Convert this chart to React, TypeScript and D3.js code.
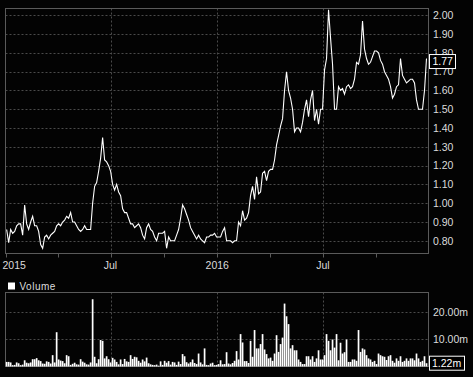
import React from "react";
import * as d3 from "d3";

// ---- data (sampled every ~3.45 days from early Jan 2015 to end Dec 2016) ----
const sampleStart = "2015-01-03";
const sampleStepDays = 3.446;

const prices: number[] = [
  0.86, 0.79, 0.86, 0.84, 0.85, 0.88, 0.89, 0.89, 0.83, 0.99,
  0.89, 0.86, 0.9, 0.93, 0.88, 0.88, 0.85, 0.78, 0.76, 0.82,
  0.83, 0.81, 0.83, 0.84, 0.85, 0.88, 0.89, 0.88, 0.9, 0.91,
  0.93, 0.92, 0.95, 0.9, 0.9, 0.88, 0.86, 0.85, 0.86, 0.88,
  0.86, 0.86, 0.86, 1.0, 1.09, 1.11, 1.17, 1.24, 1.35, 1.23,
  1.22, 1.2, 1.17, 1.1, 1.07, 1.1, 1.06, 1.04, 0.97, 0.95,
  0.95, 0.92, 0.89, 0.89, 0.87, 0.88, 0.89, 0.87, 0.83, 0.81,
  0.87, 0.89, 0.86, 0.85, 0.82, 0.8, 0.84, 0.84, 0.84, 0.85,
  0.76, 0.82, 0.8, 0.8, 0.8, 0.83, 0.86, 0.92, 0.99, 0.97,
  0.94, 0.91, 0.87, 0.85, 0.83, 0.81, 0.83, 0.81, 0.8, 0.79,
  0.82, 0.82, 0.83, 0.83, 0.84, 0.82, 0.82, 0.82, 0.85, 0.87,
  0.8, 0.8, 0.8, 0.79, 0.8, 0.8, 0.9, 0.88, 0.96, 0.91,
  0.92, 0.95, 1.04, 1.09, 1.02, 1.14, 1.05, 1.06, 1.16, 1.17,
  1.12, 1.17, 1.18, 1.18, 1.23, 1.31, 1.36, 1.41, 1.45, 1.6,
  1.7, 1.6, 1.56, 1.5, 1.38, 1.4, 1.4, 1.38, 1.43, 1.5,
  1.55, 1.46, 1.55, 1.6, 1.44, 1.5, 1.42, 1.5, 1.5, 1.71,
  1.77, 2.03, 1.88, 1.74, 1.5, 1.5, 1.62, 1.6, 1.61, 1.58,
  1.62, 1.63, 1.61, 1.62, 1.66, 1.75, 1.74, 1.79, 1.97, 1.82,
  1.77, 1.74, 1.75, 1.78, 1.81, 1.81, 1.8, 1.76, 1.74, 1.7,
  1.68, 1.66, 1.62, 1.56, 1.58, 1.62, 1.63, 1.77, 1.68, 1.66,
  1.64, 1.65, 1.66, 1.66, 1.64, 1.55, 1.5, 1.5, 1.5, 1.6,
  1.77,
];

// volume in millions
const volumes: number[] = [
  1.7, 1.7, 1.5, 0.5, 0.6, 1.5, 1.2, 0.5, 0.7, 2.3,
  1.4, 1.2, 1.5, 2.7, 2.7, 3.1, 2.3, 2.0, 1.1, 1.0,
  1.9, 1.7, 1.1, 4.2, 1.5, 12.7, 2.6, 2.2, 2.0, 1.2,
  4.2, 3.8, 0.6, 1.0, 1.4, 0.8, 0.7, 2.7, 1.8, 1.4,
  0.8, 0.7, 1.5, 24.9, 3.6, 1.2, 2.7, 9.8, 9.5, 3.0,
  3.8, 2.7, 1.5, 3.2, 2.6, 1.7, 0.8, 2.6, 0.9, 2.8,
  1.9, 1.7, 4.2, 2.8, 3.6, 3.4, 2.1, 1.4, 2.6, 1.9,
  3.3, 1.2, 0.8, 0.6, 0.5, 0.7, 0.3, 1.9, 0.6, 2.1,
  1.4, 2.0, 0.7, 1.7, 1.5, 0.6, 1.8, 0.9, 4.6, 3.8,
  1.6, 1.1, 1.6, 2.6, 1.3, 0.9, 4.8, 1.5, 0.8, 6.7,
  0.6, 0.5, 1.1, 1.4, 0.5, 0.6, 0.9, 2.3, 0.8, 0.9,
  5.3, 1.1, 0.8, 1.3, 2.1, 5.7, 2.6, 12.0, 8.9, 2.0,
  2.0, 1.3, 9.5, 3.6, 13.5, 6.7, 6.7, 8.3, 12.0, 6.3,
  4.6, 3.0, 3.3, 2.1, 4.8, 11.6, 5.4, 8.3, 10.7, 23.3,
  18.6, 15.7, 6.7, 7.9, 6.0, 6.0, 2.6, 1.7, 0.9, 0.9,
  3.8, 3.8, 2.6, 3.8, 1.7, 3.0, 6.0, 2.6, 2.6, 4.2,
  12.0, 9.5, 6.0, 10.0, 7.0, 12.0, 2.3, 8.8, 4.8, 5.3,
  10.0, 1.7, 1.7, 2.6, 2.6, 2.1, 13.5, 5.4, 6.7, 6.3,
  4.2, 3.0, 2.6, 1.7, 2.1, 0.9, 4.8, 4.2, 3.8, 3.6,
  2.4, 3.8, 4.2, 2.1, 1.4, 3.0, 2.1, 3.8, 1.7, 2.1,
  3.0, 2.1, 3.0, 3.0, 2.3, 4.8, 3.0, 1.7, 2.1, 3.8,
  1.22,
];

const priceTicks = [0.8, 0.9, 1.0, 1.1, 1.2, 1.3, 1.4, 1.5, 1.6, 1.7, 1.8, 1.9, 2.0];
const volumeTicks = [10, 20];
const xLabelDates = ["2015-01-01", "2015-07-01", "2016-01-01", "2016-07-01"];
const xLabels = ["2015", "Jul", "2016", "Jul"];
const xTickDates = [
  "2015-01-01", "2015-04-01", "2015-07-01", "2015-10-01",
  "2016-01-01", "2016-04-01", "2016-07-01", "2016-10-01",
];
const xGridDates = ["2015-07-01", "2016-01-01", "2016-07-01"];
const xDomain = ["2015-01-01", "2017-01-01"];
const volumeLabel = "Volume";

// ---- layout ----
const W = 473;
const H = 377;
const L = 5.5;
const R = 428.5;
const PT = 8.5;
const PB = 253.5;
const VT = 292.5;
const VB = 366.5;
const FONT = "'Liberation Sans', Arial, Helvetica, sans-serif";
const TXT = "#dcdcdc";
const GRID = "#4a4a4a";
const FRAME = "#5a5a5a";

const parse = (s: string) => new Date(s + "T00:00:00");
const startT = parse(sampleStart).getTime();
const dateAt = (i: number) => new Date(startT + i * sampleStepDays * 86400000);

export default function App() {
  const x = d3.scaleTime().domain(xDomain.map(parse)).range([L, 429.6]);
  const y = d3.scaleLinear().domain([0.735, 2.039]).range([253, 8]);
  const yv = d3.scaleLinear().domain([0, 27.4]).range([366.5, 292.5]);

  const priceData = prices.map((p, i) => ({ d: dateAt(i), p }));
  const volData = volumes.map((v, i) => ({ d: dateAt(i), v }));

  const line = d3
    .line<{ d: Date; p: number }>()
    .x((a) => x(a.d))
    .y((a) => y(a.p));

  const lastP = prices[prices.length - 1];
  const lastV = volumes[volumes.length - 1];
  const pBoxC = y(lastP) + 3;
  const vBoxC = yv(lastV);

  return (
    <div style={{ position: "fixed", left: 0, top: 0, width: W, height: H, background: "#000" }}>
      <svg width={W} height={H} style={{ display: "block" }} fontFamily={FONT}>
        <rect x={0} y={0} width={W} height={H} fill="#030303" />

        {/* price panel grid */}
        {priceTicks.map((t) => (
          <line key={"hg" + t} x1={L} x2={R} y1={Math.round(y(t)) + 0.5} y2={Math.round(y(t)) + 0.5}
            stroke={GRID} strokeDasharray="2,2" />
        ))}
        {xGridDates.map((s) => {
          const xx = Math.round(x(parse(s))) + 0.5;
          return (
            <g key={"vg" + s}>
              <line x1={xx} x2={xx} y1={PT} y2={PB} stroke={GRID} strokeDasharray="2,2" />
              <line x1={xx} x2={xx} y1={VT} y2={VB} stroke={GRID} strokeDasharray="2,2" />
            </g>
          );
        })}
        {volumeTicks.map((t) => (
          <line key={"vhg" + t} x1={L} x2={R} y1={Math.round(yv(t)) + 0.5} y2={Math.round(yv(t)) + 0.5}
            stroke={GRID} strokeDasharray="2,2" />
        ))}

        {/* frames */}
        <rect x={L} y={PT} width={R - L} height={PB - PT} fill="none" stroke={FRAME} />
        <rect x={L} y={VT} width={R - L} height={VB - VT} fill="none" stroke={FRAME} />

        {/* x ticks */}
        {xTickDates.map((s) => {
          const xx = Math.round(x(parse(s))) + 0.5;
          return <line key={"xt" + s} x1={xx} x2={xx} y1={PB} y2={PB + 4} stroke={FRAME} />;
        })}
        {xLabels.map((lab, i) => {
          const xx = x(parse(xLabelDates[i]));
          return (
            <text key={"xl" + i} x={i === 0 ? 2.5 : xx} y={268.5} fontSize={10.5} fill={TXT}
              textAnchor={i === 0 ? "start" : "middle"}>
              {lab}
            </text>
          );
        })}

        {/* price line */}
        <path d={line(priceData) || ""} fill="none" stroke="#ffffff" strokeWidth={1.1} strokeLinejoin="miter" />

        {/* price axis labels */}
        {priceTicks.map((t) => (
          <text key={"pl" + t} x={433} y={y(t) + 3.8} fontSize={10.5} fill={TXT}>
            {t.toFixed(2)}
          </text>
        ))}
        <rect x={429.5} y={pBoxC - 7} width={26} height={14} fill="#000" stroke="#ffffff" />
        <text x={432.5} y={pBoxC + 3.8} fontSize={10.5} fill="#fff">{lastP.toFixed(2)}</text>

        {/* volume bars */}
        {volData.map((a, i) => (
          <rect key={"vb" + i} x={x(a.d) - 0.85} y={yv(a.v)} width={1.7} height={yv(0) - yv(a.v)} fill="#ffffff" />
        ))}

        {/* volume axis labels */}
        {volumeTicks.map((t) => (
          <text key={"vl" + t} x={433} y={yv(t) + 3.8} fontSize={10.5} fill={TXT}>
            {t.toFixed(2) + "m"}
          </text>
        ))}
        <rect x={429.5} y={vBoxC - 7} width={35} height={14} fill="#000" stroke="#ffffff" />
        <text x={432} y={vBoxC + 3.8} fontSize={10.5} fill="#fff">{lastV.toFixed(2) + "m"}</text>

        {/* legend */}
        <rect x={8} y={282.5} width={7} height={7} fill="#ffffff" />
        <text x={19.5} y={289.5} fontSize={10} letterSpacing={0.5} fill={TXT}>{volumeLabel}</text>
      </svg>
    </div>
  );
}
